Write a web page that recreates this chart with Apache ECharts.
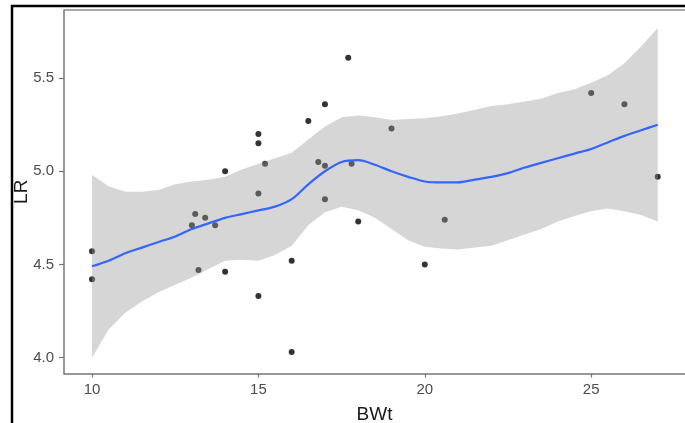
<!DOCTYPE html>
<html>
<head>
<meta charset="utf-8">
<script src="https://cdn.jsdelivr.net/npm/echarts@6/dist/echarts.min.js"></script>
<style>
html,body{margin:0;padding:0;background:#fff;}
#chart{width:685px;height:423px;}
</style>
</head>
<body>
<div id="chart"></div>
<script>
// Observed points
var bwt = [10, 10, 13, 13.1, 13.4, 13.7, 13.2, 14, 14, 15, 15, 15.2, 15, 16.5, 17, 17.7, 16.8, 17, 17.8, 19, 17, 18, 20.6, 16, 20, 15, 16, 25, 26, 27];
var lr  = [4.57, 4.42, 4.71, 4.77, 4.75, 4.71, 4.47, 4.46, 5.0, 5.2, 5.15, 5.04, 4.88, 5.27, 5.36, 5.61, 5.05, 5.03, 5.04, 5.23, 4.85, 4.73, 4.74, 4.52, 4.50, 4.33, 4.03, 5.42, 5.36, 4.97];

// Loess smooth and confidence band
var smoothX = [10, 10.5, 11, 11.5, 12, 12.5, 13, 13.5, 14, 14.5, 15, 15.5, 16, 16.5, 17, 17.5, 18, 18.5, 19, 19.5, 20, 20.5, 21, 21.5, 22, 22.5, 23, 23.5, 24, 24.5, 25, 25.5, 26, 26.5, 27];
var smoothY = [4.49, 4.52, 4.56, 4.59, 4.62, 4.65, 4.69, 4.72, 4.75, 4.77, 4.79, 4.81, 4.85, 4.93, 5.00, 5.05, 5.06, 5.035, 5.00, 4.97, 4.945, 4.94, 4.94, 4.955, 4.97, 4.99, 5.02, 5.045, 5.07, 5.095, 5.12, 5.155, 5.19, 5.22, 5.25];
var upperY  = [4.98, 4.92, 4.89, 4.89, 4.90, 4.93, 4.945, 4.955, 4.97, 5.01, 5.04, 5.07, 5.10, 5.17, 5.24, 5.29, 5.30, 5.29, 5.275, 5.28, 5.285, 5.295, 5.31, 5.33, 5.35, 5.36, 5.375, 5.39, 5.42, 5.44, 5.475, 5.515, 5.58, 5.67, 5.77];
var lowerY  = [4.00, 4.15, 4.24, 4.30, 4.35, 4.39, 4.43, 4.475, 4.52, 4.525, 4.52, 4.55, 4.60, 4.71, 4.78, 4.81, 4.79, 4.75, 4.69, 4.63, 4.595, 4.585, 4.58, 4.59, 4.60, 4.63, 4.66, 4.69, 4.73, 4.76, 4.785, 4.80, 4.785, 4.765, 4.73];

var xTicks = [10, 15, 20, 25];
var yTicks = [4.0, 4.5, 5.0, 5.5];

var FONT = '"Liberation Sans", Arial, sans-serif';

var chart = echarts.init(document.getElementById('chart'), null, {renderer: 'canvas'});
chart.setOption({
  animation: false,
  backgroundColor: '#ffffff',
  grid: {left: 64, top: 10, right: 0, bottom: 49.5, containLabel: false, outerBoundsMode: 'none'},
  xAxis: {
    type: 'value',
    min: 9.158, max: 27.82,
    name: 'BWt', nameLocation: 'middle', nameGap: 32, nameMoveOverlap: false,
    nameTextStyle: {fontFamily: FONT, fontSize: 19, color: '#1a1a1a'},
    axisLine: {show: true, onZero: false, lineStyle: {color: '#777', width: 1.5}},
    axisTick: {show: true, length: 4, customValues: xTicks, lineStyle: {color: '#777', width: 1.2}},
    axisLabel: {customValues: xTicks, margin: 9, fontFamily: FONT, fontSize: 15, color: '#4d4d4d'},
    splitLine: {show: false}
  },
  yAxis: {
    type: 'value',
    min: 3.914, max: 5.866,
    name: 'LR', nameLocation: 'middle', nameGap: 33, nameRotate: 90, nameMoveOverlap: false,
    nameTextStyle: {fontFamily: FONT, fontSize: 19, color: '#1a1a1a'},
    axisLine: {show: true, onZero: false, lineStyle: {color: '#777', width: 1.5}},
    axisTick: {show: true, length: 5, customValues: yTicks, lineStyle: {color: '#777', width: 1.2}},
    axisLabel: {customValues: yTicks, margin: 10, fontFamily: FONT, fontSize: 15, color: '#4d4d4d',
      formatter: function (v) { return v.toFixed(1); }},
    splitLine: {show: false}
  },
  series: [
    {
      type: 'scatter', z: 1,
      data: bwt.map(function (x, i) { return [x, lr[i]]; }),
      symbol: 'circle', symbolSize: 6,
      itemStyle: {color: '#000000'}
    },
    {
      type: 'custom', z: 2, silent: true,
      data: [[smoothX[0], upperY[0]]],
      renderItem: function (params, api) {
        var pts = [];
        for (var i = 0; i < smoothX.length; i++) pts.push(api.coord([smoothX[i], upperY[i]]));
        for (var j = smoothX.length - 1; j >= 0; j--) pts.push(api.coord([smoothX[j], lowerY[j]]));
        return {
          type: 'polygon',
          shape: {points: pts},
          style: {fill: 'rgba(153,153,153,0.4)', stroke: 'none'}
        };
      }
    },
    {
      type: 'line', z: 3, symbol: 'none', smooth: 0.3,
      data: smoothX.map(function (x, i) { return [x, smoothY[i]]; }),
      lineStyle: {color: '#3366FF', width: 2.2}
    }
  ],
  graphic: [
    {type: 'line', shape: {x1: 64, y1: 10, x2: 685, y2: 10}, style: {stroke: '#8a8a8a', lineWidth: 1.5}, z: 10},
    {type: 'line', shape: {x1: 11, y1: 6, x2: 685, y2: 6}, style: {stroke: '#000', lineWidth: 2.5}, z: 10},
    {type: 'line', shape: {x1: 12, y1: 5, x2: 12, y2: 423}, style: {stroke: '#000', lineWidth: 2.5}, z: 10}
  ]
});
</script>
</body>
</html>
